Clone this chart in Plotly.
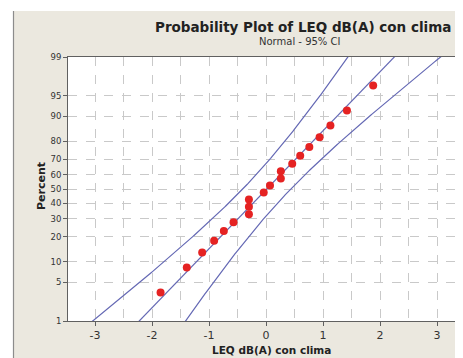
import math
from statistics import NormalDist, mean, stdev
import plotly.graph_objects as go

# ---- data ----
leq_values = [-1.85, -1.39, -1.12, -0.91, -0.74, -0.57, -0.30, -0.30, -0.30, -0.04,
              0.07, 0.26, 0.26, 0.46, 0.60, 0.76, 0.94, 1.13, 1.42, 1.88]
percent_values = [3.4, 8.3, 13.2, 18.1, 23.0, 27.9, 32.8, 37.7, 42.6, 47.5,
                  52.5, 57.4, 62.3, 67.2, 72.1, 77.0, 81.9, 86.8, 91.7, 96.6]
y_tick_percents = [1, 5, 10, 20, 30, 40, 50, 60, 70, 80, 90, 95, 99]
x_tick_values = [-3, -2, -1, 0, 1, 2, 3]

title_text = "Probability Plot of LEQ dB(A) con clima"
subtitle_text = "Normal - 95% CI"
x_title = "LEQ dB(A) con clima"
y_title = "Percent"

# ---- probability scale helpers ----
nd = NormalDist()
def zq(p):
    return nd.inv_cdf(p / 100.0)

pts_y = [zq(p) for p in percent_values]
ytickvals = [zq(p) for p in y_tick_percents]
zlim = zq(99)

# fitted normal line and 95% CI for percentiles (from the sample)
n = len(leq_values)
mu = mean(leq_values)
sd = stdev(leq_values)
zgrid = [-2.6 + i * 0.02 for i in range(261)]
fit_x = [mu + sd * z for z in zgrid]
half = [1.96 * sd * math.sqrt((1 + z * z / 2.0) / n) for z in zgrid]
lo_x = [f - h for f, h in zip(fit_x, half)]
hi_x = [f + h for f, h in zip(fit_x, half)]

LINE = "#6468b4"
PT = "#e52222"
BG = "#ebe8df"
FONT = "DejaVu Sans"

fig = go.Figure()
for xs in (lo_x, fit_x, hi_x):
    fig.add_trace(go.Scatter(x=xs, y=zgrid, mode="lines",
                             line=dict(color=LINE, width=1.2),
                             hoverinfo="skip", showlegend=False))
fig.add_trace(go.Scatter(x=leq_values, y=pts_y, mode="markers",
                         marker=dict(color=PT, size=8, line=dict(width=0)),
                         showlegend=False))

# page has an 8px body margin; figure fills the rest of the 463x358 window
OFF = 8
W, H = 463 - OFF, 358 - OFF
# plot area in window pixels: x 68..461, y 57..321
L, R, T, B = 68 - OFF, 463 - 461, 57 - OFF, 358 - 321
pw, ph = W - L - R, H - T - B
def px(xw):  # window pixel x -> paper x
    return (xw - OFF - L) / pw
def py(yw):  # window pixel y -> paper y
    return (H - B - (yw - OFF)) / ph

grid = dict(gridcolor="#c9c9c9", griddash="dash", gridwidth=1)
fig.update_layout(
    width=W, height=H,
    margin=dict(l=L, r=R, t=T, b=B),
    paper_bgcolor=BG, plot_bgcolor="white",
    font=dict(family=FONT, color="#333333"),
    xaxis=dict(range=[-3.474, 3.421], tickvals=x_tick_values,
               ticktext=[str(v) for v in x_tick_values],
               showline=True, linecolor="#606060", linewidth=1, mirror=True,
               ticks="outside", ticklen=4, tickcolor="#606060",
               tickfont=dict(size=11, color="#333333"),
               showgrid=True, zeroline=False,
               minor=dict(dtick=0.5, tick0=0, showgrid=True, gridcolor="#c9c9c9",
                          griddash="dash", ticks=""),
               **grid),
    yaxis=dict(range=[-zlim, zlim], tickvals=ytickvals,
               ticktext=[str(v) for v in y_tick_percents],
               showline=True, linecolor="#606060", linewidth=1, mirror=True,
               ticks="outside", ticklen=4, tickcolor="#606060",
               tickfont=dict(size=8.5, color="#333333"),
               showgrid=True, zeroline=False, **grid),
    shapes=[
        dict(type="rect", xref="paper", yref="paper", x0=px(0), x1=px(470),
             y0=py(11), y1=py(0), fillcolor="white", line=dict(width=0), layer="below"),
        dict(type="rect", xref="paper", yref="paper", x0=px(0), x1=px(13),
             y0=py(365), y1=py(0), fillcolor="white", line=dict(width=0), layer="below"),
        dict(type="line", xref="paper", yref="paper", x0=px(13.5), x1=px(13.5),
             y0=py(11), y1=py(365), line=dict(color="#8c8c8c", width=1.2), layer="below"),
    ],
    annotations=[
        dict(text="<b>" + title_text + "</b>", xref="paper", yref="paper",
             x=px(303), y=py(26.5), xanchor="center", yanchor="middle",
             showarrow=False, font=dict(size=13.5, color="#222222")),
        dict(text=subtitle_text, xref="paper", yref="paper",
             x=px(299), y=py(41.5), xanchor="center", yanchor="middle",
             showarrow=False, font=dict(size=10, color="#333333")),
        dict(text="<b>" + x_title + "</b>", xref="paper", yref="paper",
             x=px(271), y=py(358), xanchor="center", yanchor="bottom",
             showarrow=False, font=dict(size=10.5, color="#222222")),
        dict(text="<b>" + y_title + "</b>", xref="paper", yref="paper",
             x=px(41), y=py(186), xanchor="center", yanchor="middle",
             textangle=-90, showarrow=False, font=dict(size=11, color="#222222")),
    ],
)

fig.write_html("out.html")
